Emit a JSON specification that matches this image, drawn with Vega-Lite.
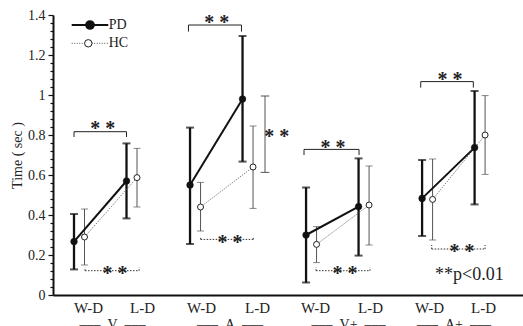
{
 "$schema": "https://vega.github.io/schema/vega-lite/v6.json",
 "width": 470, "height": 280,
 "autosize": "none",
 "padding": {"left": 53, "top": 15, "right": 0, "bottom": 31},
 "background": "white",
 "config": {"view": {"stroke": null}, "font": "Liberation Serif"},
 "datasets": {
  "pts": [
   {"g": "V", "s": "PD", "c": "W-D", "x": 1.0, "mean": 0.267, "lo": 0.128, "hi": 0.405},
   {"g": "V", "s": "HC", "c": "W-D", "x": 1.2, "mean": 0.29, "lo": 0.15, "hi": 0.43},
   {"g": "V", "s": "PD", "c": "L-D", "x": 2.0, "mean": 0.57, "lo": 0.383, "hi": 0.758},
   {"g": "V", "s": "HC", "c": "L-D", "x": 2.2, "mean": 0.587, "lo": 0.44, "hi": 0.733},
   {"g": "A", "s": "PD", "c": "W-D", "x": 3.21, "mean": 0.55, "lo": 0.255, "hi": 0.837},
   {"g": "A", "s": "HC", "c": "W-D", "x": 3.41, "mean": 0.44, "lo": 0.32, "hi": 0.563},
   {"g": "A", "s": "PD", "c": "L-D", "x": 4.21, "mean": 0.98, "lo": 0.667, "hi": 1.295},
   {"g": "A", "s": "HC", "c": "L-D", "x": 4.41, "mean": 0.64, "lo": 0.433, "hi": 0.845},
   {"g": "V+", "s": "PD", "c": "W-D", "x": 5.42, "mean": 0.30, "lo": 0.062, "hi": 0.538},
   {"g": "V+", "s": "HC", "c": "W-D", "x": 5.62, "mean": 0.253, "lo": 0.162, "hi": 0.342},
   {"g": "V+", "s": "PD", "c": "L-D", "x": 6.42, "mean": 0.442, "lo": 0.197, "hi": 0.683},
   {"g": "V+", "s": "HC", "c": "L-D", "x": 6.62, "mean": 0.45, "lo": 0.25, "hi": 0.645},
   {"g": "A+", "s": "PD", "c": "W-D", "x": 7.63, "mean": 0.483, "lo": 0.295, "hi": 0.675},
   {"g": "A+", "s": "HC", "c": "W-D", "x": 7.83, "mean": 0.478, "lo": 0.275, "hi": 0.68},
   {"g": "A+", "s": "PD", "c": "L-D", "x": 8.63, "mean": 0.737, "lo": 0.453, "hi": 1.02},
   {"g": "A+", "s": "HC", "c": "L-D", "x": 8.83, "mean": 0.80, "lo": 0.603, "hi": 0.997}
  ],
  "seg": [
   {"k": "s", "x": 1.0, "x2": 2.0, "y": 0.8165, "y2": 0.8165},
   {"k": "s", "x": 1.0, "x2": 1.0, "y": 0.79, "y2": 0.8165},
   {"k": "s", "x": 2.0, "x2": 2.0, "y": 0.79, "y2": 0.8165},
   {"k": "d", "x": 1.21, "x2": 2.24, "y": 0.1215, "y2": 0.1215},
   {"k": "d", "x": 1.21, "x2": 1.21, "y": 0.1215, "y2": 0.138},
   {"k": "d", "x": 2.24, "x2": 2.24, "y": 0.1215, "y2": 0.138},
   {"k": "s", "x": 3.18, "x2": 4.19, "y": 1.35, "y2": 1.35},
   {"k": "s", "x": 3.18, "x2": 3.18, "y": 1.317, "y2": 1.35},
   {"k": "s", "x": 4.19, "x2": 4.19, "y": 1.317, "y2": 1.35},
   {"k": "g", "x": 4.638, "x2": 4.638, "y": 0.613, "y2": 0.995},
   {"k": "g", "x": 4.556, "x2": 4.72, "y": 0.995, "y2": 0.995},
   {"k": "g", "x": 4.556, "x2": 4.72, "y": 0.613, "y2": 0.613},
   {"k": "d", "x": 3.413, "x2": 4.415, "y": 0.278, "y2": 0.278},
   {"k": "d", "x": 3.413, "x2": 3.413, "y": 0.278, "y2": 0.29},
   {"k": "d", "x": 4.415, "x2": 4.415, "y": 0.278, "y2": 0.29},
   {"k": "s", "x": 5.381, "x2": 6.429, "y": 0.728, "y2": 0.728},
   {"k": "s", "x": 5.381, "x2": 5.381, "y": 0.70, "y2": 0.728},
   {"k": "s", "x": 6.429, "x2": 6.429, "y": 0.70, "y2": 0.728},
   {"k": "d", "x": 5.61, "x2": 6.638, "y": 0.1215, "y2": 0.1215},
   {"k": "d", "x": 5.61, "x2": 5.61, "y": 0.1215, "y2": 0.138},
   {"k": "d", "x": 6.638, "x2": 6.638, "y": 0.1215, "y2": 0.138},
   {"k": "s", "x": 7.604, "x2": 8.606, "y": 1.067, "y2": 1.067},
   {"k": "s", "x": 7.604, "x2": 7.604, "y": 1.037, "y2": 1.067},
   {"k": "s", "x": 8.606, "x2": 8.606, "y": 1.037, "y2": 1.067},
   {"k": "d", "x": 7.813, "x2": 8.829, "y": 0.23, "y2": 0.23},
   {"k": "d", "x": 7.813, "x2": 7.813, "y": 0.23, "y2": 0.25},
   {"k": "d", "x": 8.829, "x2": 8.829, "y": 0.23, "y2": 0.25}
  ],
  "stars": [
   {"x": 1.547, "y": 0.8005, "t": "* *"},
   {"x": 1.781, "y": 0.073, "t": "* *"},
   {"x": 3.718, "y": 1.328, "t": "* *"},
   {"x": 4.861, "y": 0.758, "t": "* *"},
   {"x": 3.971, "y": 0.228, "t": "* *"},
   {"x": 5.933, "y": 0.7055, "t": "* *"},
   {"x": 6.162, "y": 0.0755, "t": "* *"},
   {"x": 8.162, "y": 1.0445, "t": "* *"},
   {"x": 8.39, "y": 0.183, "t": "* *"}
  ],
  "groups": [
   {"x": 1.733, "y": -0.172, "t": "––– \u00a0V\u00a0 –––"},
   {"x": 3.971, "y": -0.172, "t": "––– \u00a0A\u00a0 –––"},
   {"x": 6.229, "y": -0.172, "t": "––– \u00a0V+\u00a0 –––"},
   {"x": 8.238, "y": -0.172, "t": "––– \u00a0A+\u00a0 –––"}
  ],
  "legend": [
   {"s": "PD", "x": 0.956, "x2": 1.653, "xc": 1.305, "xt": 1.66, "y": 1.35},
   {"s": "HC", "x": 0.956, "x2": 1.653, "xc": 1.272, "xt": 1.66, "y": 1.2585}
  ],
  "note": [
   {"x": 7.876, "y": 0.075, "t": "**p<0.01"}
  ]
 },
 "layer": [
  {
   "data": {"name": "pts"},
   "transform": [{"filter": "datum.s == 'HC'"}],
   "mark": {"type": "rule", "stroke": "#555", "strokeWidth": 1},
   "encoding": {
    "x": {"field": "x", "type": "quantitative",
     "scale": {"domain": [0.6, 9.552], "nice": false, "zero": false},
     "axis": {"title": null, "values": [1.267, 2.295, 3.419, 4.486, 5.59, 6.638, 7.762, 8.79],
      "tickCount": 100,
      "labelExpr": "indexof([1.267, 3.419, 5.59, 7.762], datum.value) >= 0 ? 'W-D' : 'L-D'",
      "ticks": false, "grid": false, "domainColor": "#111", "domainWidth": 2,
      "labelFont": "Liberation Serif", "labelFontSize": 15, "labelColor": "#222",
      "labelPadding": 5, "labelFlush": false, "labelOverlap": false}},
    "y": {"field": "lo", "type": "quantitative",
     "scale": {"domain": [0, 1.4], "nice": false, "zero": false},
     "axis": {"title": "Time ( sec )",
      "values": [0,0.04,0.08,0.12,0.16,0.2,0.24,0.28,0.32,0.36,0.4,0.44,0.48,0.52,0.56,0.6,0.64,0.68,0.72,0.76,0.8,0.84,0.88,0.92,0.96,1,1.04,1.08,1.12,1.16,1.2,1.24,1.28,1.32,1.36,1.4],
      "tickCount": 100,
      "labelExpr": "abs(datum.value*5 - round(datum.value*5)) < 0.001 ? format(datum.value, '.1~f') : ''",
      "tickSize": {"condition": {"test": "abs(datum.value*5 - round(datum.value*5)) < 0.001", "value": 5}, "value": 3},
      "tickColor": "#111", "tickWidth": 1.2, "grid": false,
      "domainColor": "#111", "domainWidth": 2,
      "labelFont": "Liberation Serif", "labelFontSize": 14, "labelColor": "#222",
      "labelPadding": 3, "labelFlush": false, "labelOverlap": false,
      "titleFont": "Liberation Serif", "titleFontSize": 14, "titleFontWeight": "normal",
      "titleColor": "#222", "titlePadding": 3}},
    "y2": {"field": "hi"}
   }
  },
  {
   "data": {"name": "pts"},
   "transform": [{"filter": "datum.s == 'HC'"}, {"fold": ["lo", "hi"], "as": ["end", "v"]}],
   "mark": {"type": "tick", "orient": "horizontal", "size": 7, "thickness": 1, "color": "#555"},
   "encoding": {
    "x": {"field": "x", "type": "quantitative"},
    "y": {"field": "v", "type": "quantitative"}
   }
  },
  {
   "data": {"name": "pts"},
   "transform": [{"filter": "datum.s == 'PD'"}],
   "mark": {"type": "rule", "stroke": "#111", "strokeWidth": 2.3},
   "encoding": {
    "x": {"field": "x", "type": "quantitative"},
    "y": {"field": "lo", "type": "quantitative"},
    "y2": {"field": "hi"}
   }
  },
  {
   "data": {"name": "pts"},
   "transform": [{"filter": "datum.s == 'PD'"}, {"fold": ["lo", "hi"], "as": ["end", "v"]}],
   "mark": {"type": "tick", "orient": "horizontal", "size": 8, "thickness": 2, "color": "#111"},
   "encoding": {
    "x": {"field": "x", "type": "quantitative"},
    "y": {"field": "v", "type": "quantitative"}
   }
  },
  {
   "data": {"name": "pts"},
   "transform": [{"filter": "datum.s == 'HC'"}],
   "mark": {"type": "line", "stroke": "#555", "strokeWidth": 1, "strokeDash": [1, 1.5]},
   "encoding": {
    "x": {"field": "x", "type": "quantitative"},
    "y": {"field": "mean", "type": "quantitative"},
    "detail": {"field": "g"}
   }
  },
  {
   "data": {"name": "pts"},
   "transform": [{"filter": "datum.s == 'PD'"}],
   "mark": {"type": "line", "stroke": "#111", "strokeWidth": 2},
   "encoding": {
    "x": {"field": "x", "type": "quantitative"},
    "y": {"field": "mean", "type": "quantitative"},
    "detail": {"field": "g"}
   }
  },
  {
   "data": {"name": "pts"},
   "transform": [{"filter": "datum.s == 'PD'"}],
   "mark": {"type": "point", "shape": "circle", "filled": true, "fill": "#111", "stroke": "#111", "strokeWidth": 0.5, "size": 45, "opacity": 1},
   "encoding": {
    "x": {"field": "x", "type": "quantitative"},
    "y": {"field": "mean", "type": "quantitative"}
   }
  },
  {
   "data": {"name": "pts"},
   "transform": [{"filter": "datum.s == 'HC'"}],
   "mark": {"type": "point", "shape": "circle", "filled": true, "fill": "white", "stroke": "#222", "strokeWidth": 1, "size": 36, "opacity": 1},
   "encoding": {
    "x": {"field": "x", "type": "quantitative"},
    "y": {"field": "mean", "type": "quantitative"}
   }
  },
  {
   "data": {"name": "seg"},
   "transform": [{"filter": "datum.k == 's'"}],
   "mark": {"type": "rule", "stroke": "#222", "strokeWidth": 1},
   "encoding": {
    "x": {"field": "x", "type": "quantitative"},
    "x2": {"field": "x2"},
    "y": {"field": "y", "type": "quantitative"},
    "y2": {"field": "y2"}
   }
  },
  {
   "data": {"name": "seg"},
   "transform": [{"filter": "datum.k == 'd'"}],
   "mark": {"type": "rule", "stroke": "#333", "strokeWidth": 1, "strokeDash": [1.5, 1.5]},
   "encoding": {
    "x": {"field": "x", "type": "quantitative"},
    "x2": {"field": "x2"},
    "y": {"field": "y", "type": "quantitative"},
    "y2": {"field": "y2"}
   }
  },
  {
   "data": {"name": "seg"},
   "transform": [{"filter": "datum.k == 'g'"}],
   "mark": {"type": "rule", "stroke": "#555", "strokeWidth": 1},
   "encoding": {
    "x": {"field": "x", "type": "quantitative"},
    "x2": {"field": "x2"},
    "y": {"field": "y", "type": "quantitative"},
    "y2": {"field": "y2"}
   }
  },
  {
   "data": {"name": "stars"},
   "mark": {"type": "text", "font": "Liberation Serif", "fontSize": 20, "fontWeight": "bold", "align": "center", "baseline": "alphabetic", "color": "#222"},
   "encoding": {
    "x": {"field": "x", "type": "quantitative"},
    "y": {"field": "y", "type": "quantitative"},
    "text": {"field": "t"}
   }
  },
  {
   "data": {"name": "groups"},
   "mark": {"type": "text", "font": "Liberation Serif", "fontSize": 14, "align": "center", "baseline": "alphabetic", "color": "#222"},
   "encoding": {
    "x": {"field": "x", "type": "quantitative"},
    "y": {"field": "y", "type": "quantitative"},
    "text": {"field": "t"}
   }
  },
  {
   "data": {"name": "legend"},
   "transform": [{"filter": "datum.s == 'PD'"}],
   "mark": {"type": "rule", "stroke": "#111", "strokeWidth": 2},
   "encoding": {
    "x": {"field": "x", "type": "quantitative"},
    "x2": {"field": "x2"},
    "y": {"field": "y", "type": "quantitative"}
   }
  },
  {
   "data": {"name": "legend"},
   "transform": [{"filter": "datum.s == 'HC'"}],
   "mark": {"type": "rule", "stroke": "#555", "strokeWidth": 1, "strokeDash": [1, 1.5]},
   "encoding": {
    "x": {"field": "x", "type": "quantitative"},
    "x2": {"field": "x2"},
    "y": {"field": "y", "type": "quantitative"}
   }
  },
  {
   "data": {"name": "legend"},
   "transform": [{"filter": "datum.s == 'PD'"}],
   "mark": {"type": "point", "shape": "circle", "filled": true, "fill": "#111", "stroke": "#111", "size": 60, "opacity": 1},
   "encoding": {
    "x": {"field": "xc", "type": "quantitative"},
    "y": {"field": "y", "type": "quantitative"}
   }
  },
  {
   "data": {"name": "legend"},
   "transform": [{"filter": "datum.s == 'HC'"}],
   "mark": {"type": "point", "shape": "circle", "filled": true, "fill": "white", "stroke": "#222", "strokeWidth": 1, "size": 55, "opacity": 1},
   "encoding": {
    "x": {"field": "xc", "type": "quantitative"},
    "y": {"field": "y", "type": "quantitative"}
   }
  },
  {
   "data": {"name": "legend"},
   "mark": {"type": "text", "font": "Liberation Serif", "fontSize": 14, "align": "left", "baseline": "middle", "color": "#222"},
   "encoding": {
    "x": {"field": "xt", "type": "quantitative"},
    "y": {"field": "y", "type": "quantitative"},
    "text": {"field": "s"}
   }
  },
  {
   "data": {"name": "note"},
   "mark": {"type": "text", "font": "Liberation Serif", "fontSize": 18, "align": "left", "baseline": "alphabetic", "color": "#222"},
   "encoding": {
    "x": {"field": "x", "type": "quantitative"},
    "y": {"field": "y", "type": "quantitative"},
    "text": {"field": "t"}
   }
  }
 ]
}
